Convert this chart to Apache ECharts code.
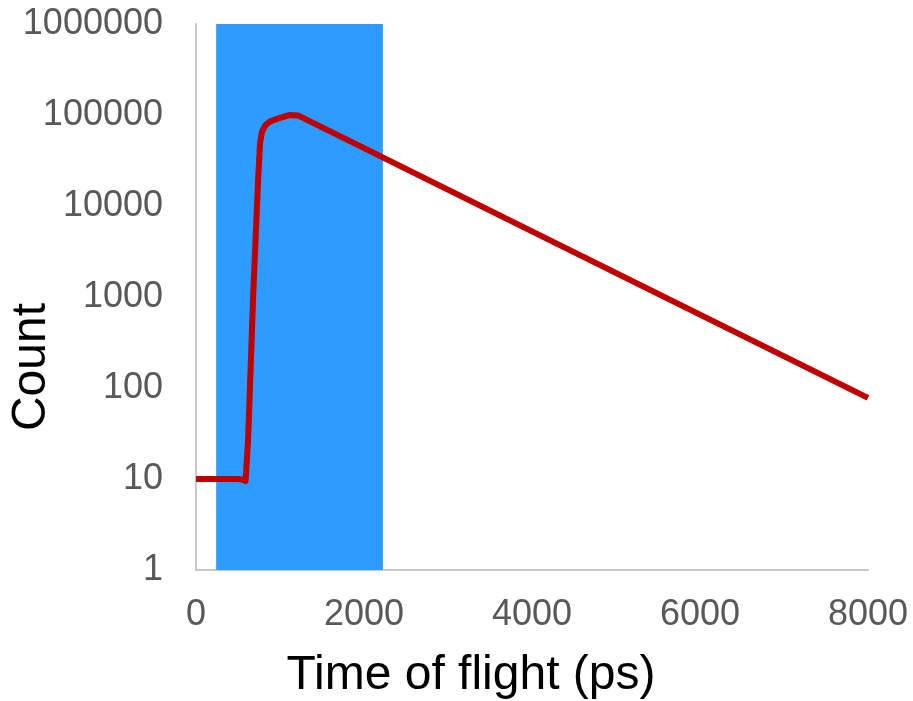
<!DOCTYPE html>
<html><head><meta charset="utf-8">
<script src="https://cdn.jsdelivr.net/npm/echarts@6/dist/echarts.min.js"></script>
<style>html,body{margin:0;padding:0;background:#fff}#c{width:913px;height:701px}</style>
</head><body><div id="c"></div>
<script>
var timePs = [0, 250, 500, 560, 590, 620, 680, 740, 762, 786, 830, 881, 1000, 1119, 1214, 8000];
var counts = [10, 10, 10, 9.8, 9.5, 27, 1000, 20000, 49000, 66000, 78000, 85000, 93000, 100000, 99000, 78];
var bandRange = [240, 2225];
var xTicks = [0, 2000, 4000, 6000, 8000];
var yTicks = [1, 10, 100, 1000, 10000, 100000, 1000000];

var chart = echarts.init(document.getElementById('c'));
var font = 'Liberation Sans, Arial, sans-serif';
chart.setOption({
  animation: false,
  grid: {left: 196, top: 24, right: 45, bottom: 131},
  xAxis: {
    type: 'value', min: xTicks[0], max: xTicks[xTicks.length-1], interval: 2000,
    axisLine: {lineStyle: {color: '#c8c8c8', width: 2}},
    axisTick: {show: false}, splitLine: {show: false},
    axisLabel: {color: '#595959', fontSize: 36, fontFamily: font, margin: 27,
      formatter: function (v) { return String(Math.round(v)); }}
  },
  yAxis: {
    type: 'log', logBase: 10, min: yTicks[0], max: yTicks[yTicks.length-1],
    axisLine: {show: true, lineStyle: {color: '#c8c8c8', width: 2}},
    axisTick: {show: false}, splitLine: {show: false},
    axisLabel: {color: '#595959', fontSize: 36, fontFamily: font, margin: 33,
      padding: [5, 0, 0, 0],
      formatter: function (v) { return String(Math.round(v)); }}
  },
  series: [{
    type: 'line', showSymbol: false, symbol: 'none',
    data: timePs.map(function (t, i) { return [t, counts[i]]; }),
    lineStyle: {color: '#c00000', width: 6, join: 'round', cap: 'butt'},
    z: 5,
    markArea: {
      silent: true,
      itemStyle: {color: '#2e9bff', opacity: 1},
      data: [[{xAxis: bandRange[0]}, {xAxis: bandRange[1]}]]
    }
  }],
  graphic: [
    {type: 'text', x: 32, y: 367, rotation: Math.PI/2,
     style: {text: 'Count', fontSize: 48, fontFamily: font, fill: '#000', textAlign: 'center', textVerticalAlign: 'middle'}},
    {type: 'text', x: 471, y: 676,
     style: {text: 'Time of flight (ps)', fontSize: 48, fontFamily: font, fill: '#000', textAlign: 'center', textVerticalAlign: 'middle'}}
  ]
});
</script></body></html>
